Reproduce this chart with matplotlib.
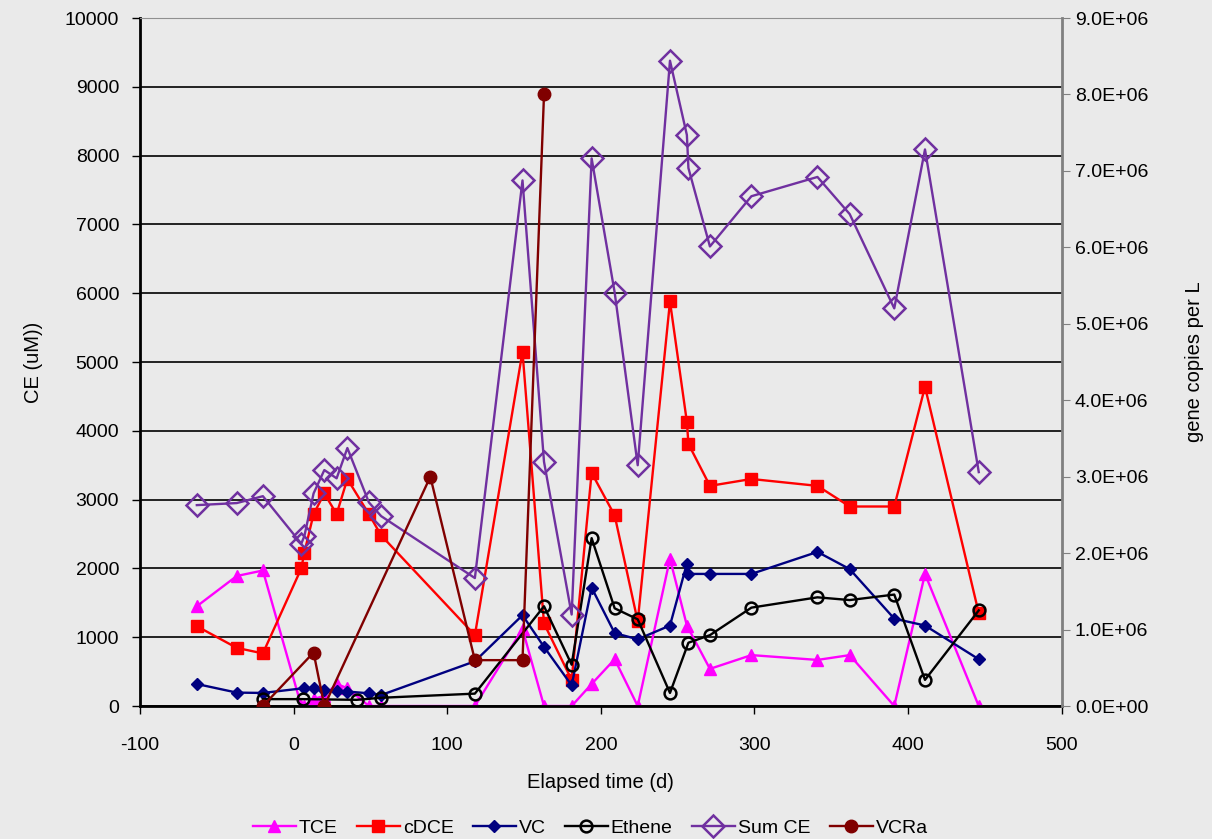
import matplotlib.pyplot as plt
from matplotlib.ticker import FuncFormatter

# values
tce_days = [-63, -37, -20, 5, 7, 13, 20, 28, 35, 49, 57, 118, 149, 163, 181, 194, 209, 224, 245, 256, 271, 298, 341, 362, 391, 411, 446]
tce = [1450, 1890, 1970, 0, 0, 100, 150, 320, 260, 0, 0, 0, 1120, 0, 0, 320, 680, 0, 2140, 1170, 540, 740, 670, 740, 0, 1920, 0]

cdce_days = [-63, -37, -20, 5, 7, 13, 20, 28, 35, 49, 57, 118, 149, 163, 181, 194, 209, 224, 245, 256, 257, 271, 298, 341, 362, 391, 411, 446]
cdce = [1160, 845, 765, 2000, 2230, 2790, 3090, 2790, 3300, 2790, 2480, 1030, 5150, 1200, 380, 3390, 2770, 1230, 5880, 4130, 3810, 3200, 3300, 3200, 2900, 2900, 4640, 1350]

vc_days = [-63, -37, -20, 7, 13, 20, 28, 35, 49, 57, 118, 149, 163, 181, 194, 209, 224, 245, 256, 257, 271, 298, 341, 362, 391, 411, 446]
vc = [320, 195, 190, 260, 260, 230, 220, 210, 185, 160, 650, 1320, 860, 300, 1720, 1060, 970, 1170, 2070, 1920, 1920, 1920, 2240, 1990, 1270, 1170, 680]

ethene_days = [-20, 6, 41, 57, 118, 163, 181, 194, 209, 224, 245, 257, 271, 298, 341, 362, 391, 411, 446]
ethene = [100, 100, 90, 120, 180, 1450, 600, 2440, 1420, 1260, 190, 920, 1030, 1430, 1580, 1540, 1620, 380, 1390]

sumce_days = [-63, -37, -20, 5, 7, 13, 20, 28, 35, 49, 57, 118, 149, 163, 181, 194, 209, 224, 245, 256, 257, 271, 298, 341, 362, 391, 411, 446]
sumce = [2920, 2950, 3050, 2360, 2470, 3090, 3430, 3310, 3750, 2960, 2760, 1860, 7640, 3550, 1330, 7960, 6010, 3500, 9380, 8300, 7820, 6680, 7410, 7690, 7150, 5780, 8090, 3400]

vcra_days = [-20, 13, 20, 89, 118, 149, 163]
vcra = [0, 0.7e6, 0, 3.0e6, 0.6e6, 0.6e6, 8.0e6]

bg = '#EAEAEA'
plt.rcParams['font.family'] = ['Liberation Sans', 'DejaVu Sans']
plt.rcParams['axes.unicode_minus'] = False

fig = plt.figure(figsize=(12.12, 8.39), dpi=100, facecolor=bg)
ax = fig.add_axes([0.1155, 0.1585, 0.7605, 0.82])
ax.set_facecolor(bg)

lw = 1.7
ax.plot(tce_days, tce, color='#FF00FF', marker='^', ms=9, lw=lw, label='TCE')
ax.plot(cdce_days, cdce, color='#FF0000', marker='s', ms=9, lw=lw, label='cDCE')
ax.plot(vc_days, vc, color='#000080', marker='D', ms=6.5, lw=lw, label='VC')
ax.plot(ethene_days, ethene, color='black', marker='o', ms=8.5, mfc='none', mew=1.8, lw=lw, label='Ethene')
ax.plot(sumce_days, sumce, color='#7030A0', marker='D', ms=11, mfc='none', mew=1.8, lw=lw, label='Sum CE')

ax.set_xlim(-100, 500)
ax.set_ylim(0, 10000)
ax.set_xticks(range(-100, 501, 100))
ax.set_yticks(range(0, 10001, 1000))
ax.grid(axis='y', color='black', lw=1.2)
ax.set_axisbelow(True)
ax.tick_params(direction='out', labelsize=14, length=6, width=1, colors='black')
ax.tick_params(axis='x', pad=16)
ax.tick_params(axis='y', pad=9)
ax.spines['left'].set_linewidth(2)
ax.spines['bottom'].set_linewidth(2)
ax.spines['top'].set_color('#909090')
ax.spines['right'].set_visible(False)
ax.set_xlabel('Elapsed time (d)', fontsize=14.5, labelpad=14)
ax.set_ylabel('CE (uM))', fontsize=14.5, labelpad=16)

ax2 = ax.twinx()
ax2.plot(vcra_days, vcra, color='#800000', marker='o', ms=9, lw=lw, label='VCRa')
ax2.set_ylim(0, 9e6)
ax2.set_yticks([i * 1e6 for i in range(10)])
ax2.yaxis.set_major_formatter(FuncFormatter(lambda v, p: '{:.1E}'.format(v)))
ax2.tick_params(direction='out', labelsize=14, length=6, colors='#808080', labelcolor='black')
ax2.spines['right'].set_color('#808080')
ax2.spines['right'].set_linewidth(2)
for s in ['left', 'top', 'bottom']:
    ax2.spines[s].set_visible(False)
ax2.set_ylabel('gene copies per L', fontsize=14.5, labelpad=26)

h1, l1 = ax.get_legend_handles_labels()
h2, l2 = ax2.get_legend_handles_labels()
fig.legend(h1 + h2, l1 + l2, loc='center', bbox_to_anchor=(0.487, 0.013), ncol=6, frameon=False,
           prop={'size': 14}, handlelength=2.2, handletextpad=0.15, columnspacing=1.0)

fig.savefig('out.png', dpi=100, facecolor=bg)
